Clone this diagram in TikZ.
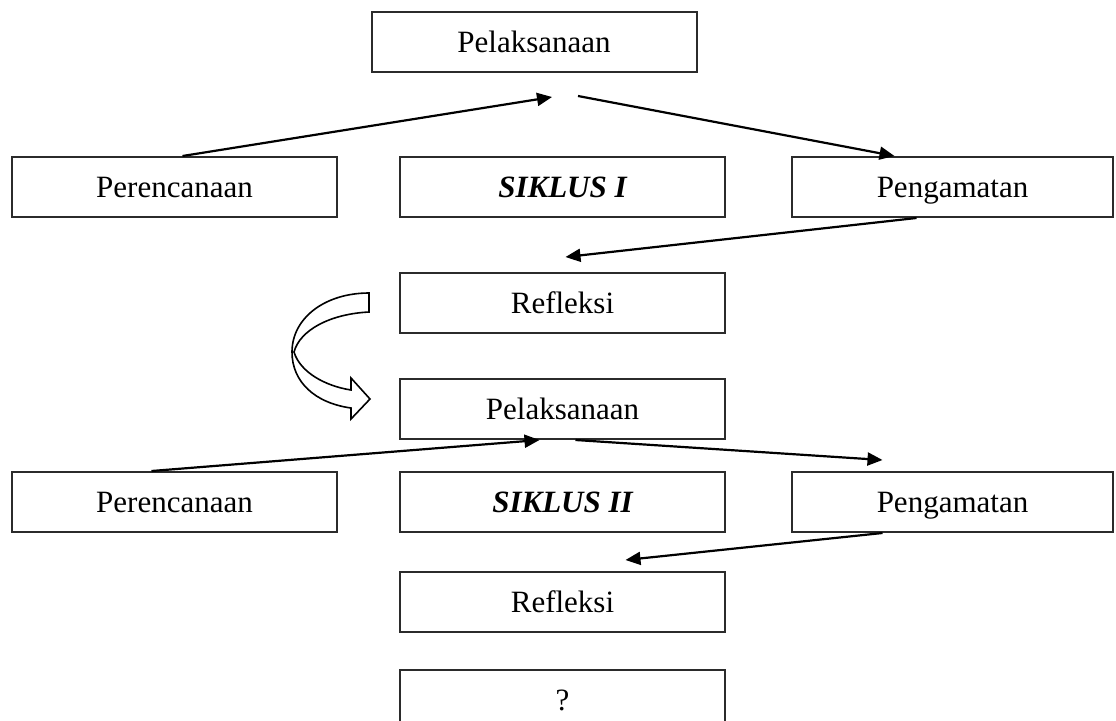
\documentclass[tikz,border=0pt]{standalone}
\usepackage{fontspec}
\setmainfont{Liberation Serif}
\usepackage{tikz}
\usetikzlibrary{arrows.meta,calc,positioning}
\definecolor{boxgray}{HTML}{2B2B2B}
\tikzset{
  stage/.style={rectangle,draw=boxgray,line width=2pt,fill=white,
    minimum width=325pt,minimum height=60pt,inner sep=0pt,align=center,
    text height=24pt,text depth=3.5pt,font=\fontsize{31}{36}\selectfont},
  cycle/.style={stage,font=\fontsize{31}{36}\selectfont\bfseries\itshape},
  arrow/.style={-{Triangle[length=15pt,width=13pt]},line width=2.2pt,draw=black},
  turnarrow/.style={draw=black,line width=1.6pt,fill=white}
}
\begin{document}
\begin{tikzpicture}[x=1pt,y=-1pt]
\useasboundingbox (0,0) rectangle (1116,720);
\node[cycle] (sik1) at (562.5,187) {SIKLUS I};
\node[stage,left=61pt of sik1] (per1) {Perencanaan};
\node[stage,right=65pt of sik1,minimum width=321pt] (pen1) {Pengamatan};
\node[stage,above=83pt of sik1,xshift=-28.5pt] (pel1) {Pelaksanaan};
\node[stage,below=54pt of sik1] (ref1) {Refleksi};
\node[stage,below=44pt of ref1] (pel2) {Pelaksanaan};
\node[cycle,below=31pt of pel2] (sik2) {SIKLUS II};
\node[stage,left=61pt of sik2] (per2) {Perencanaan};
\node[stage,right=65pt of sik2,minimum width=321pt] (pen2) {Pengamatan};
\node[stage,below=38pt of sik2] (ref2) {Refleksi};
\node[stage,below=36pt of ref2] (next) {?};
% siklus I
\draw[arrow] ([xshift=8pt]per1.north) -- ($(pel1.south)+(18pt,-24pt)$);
\draw[arrow] ($(pel1.south)+(44pt,-23pt)$) -- ([xshift=-58pt]pen1.north);
\draw[arrow] ([xshift=-36pt]pen1.south) -- ($(ref1.north)+(3pt,15pt)$);
% siklus II
\draw[arrow] ([xshift=-23pt]per2.north) -- ([xshift=-23pt]pel2.south);
\draw[arrow] ([xshift=13pt]pel2.south) -- ($(pen2.north)+(-70pt,11pt)$);
\draw[arrow] ([xshift=-70pt]pen2.south) -- ($(ref2.north)+(63pt,11pt)$);
% lanjut ke siklus II
\draw[turnarrow] (369,293) -- (369,312)
  .. controls (330,314) and (300,330) .. (294,352)
  .. controls (300,372) and (325,386) .. (351,390)
  -- (351,378) -- (370,399) -- (351,419) -- (351,408)
  .. controls (315,403) and (292,382) .. (292,352)
  .. controls (292,318) and (325,293) .. cycle;
\end{tikzpicture}
\end{document}
